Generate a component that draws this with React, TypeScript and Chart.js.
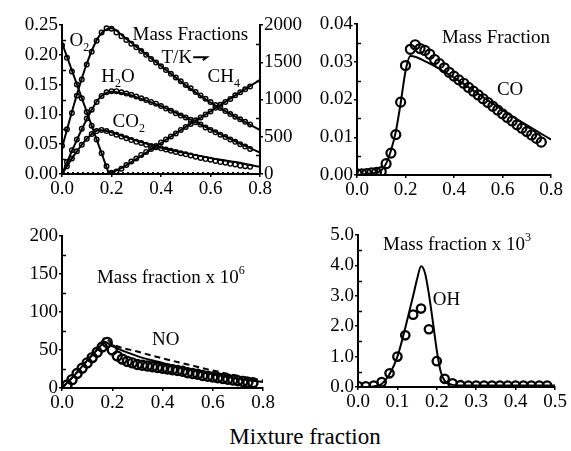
import React, { useEffect, useRef } from 'react';
import { Chart, registerables } from 'chart.js';

Chart.register(...registerables);

const FONT = "'Liberation Serif', 'Times New Roman', Times, serif";
Chart.defaults.font.family = FONT;
Chart.defaults.font.size = 19;
Chart.defaults.color = '#000';

// ---------- Panel A: major species + temperature ----------
const aXTicks = [0, 0.2, 0.4, 0.6, 0.8];
const aYTicks = [0, 0.05, 0.1, 0.15, 0.2, 0.25];
const aYMinor = [0.025, 0.075, 0.125, 0.175, 0.225];
const aTTicks = [0, 500, 1000, 1500, 2000];
const aTMinor = [250, 750, 1250, 1750];

const aLineX = [0, 0.05, 0.1, 0.15, 0.2, 0.25, 0.3, 0.4, 0.5, 0.6, 0.7, 0.8];
const aLineT = [350, 950, 1480, 1850, 1955, 1840, 1710, 1450, 1190, 960, 770, 590];
const aLineH2O = [0, 0.048, 0.092, 0.127, 0.138, 0.135, 0.129, 0.114, 0.095, 0.075, 0.055, 0.036];
const aLineCO2 = [0, 0.032, 0.059, 0.074, 0.07, 0.063, 0.056, 0.044, 0.035, 0.027, 0.02, 0.012];
const aLineO2X = [0, 0.19, 0.8];
const aLineO2 = [0.22, 0, 0];
const aLineCH4X = [0, 0.19, 0.25, 0.3, 0.4, 0.5, 0.6, 0.7, 0.8];
const aLineCH4 = [0, 0, 0.012, 0.025, 0.052, 0.079, 0.105, 0.132, 0.158];
const aDotLineX = [0, 0.76];
const aDotLineY = [0.002, 0.002];

const aExpX = [0, 0.02, 0.04, 0.06, 0.08, 0.1, 0.12, 0.14, 0.16, 0.18, 0.2, 0.22, 0.24, 0.26, 0.28, 0.3, 0.32, 0.34, 0.36, 0.38, 0.4, 0.42, 0.44, 0.46, 0.48, 0.5, 0.52, 0.54, 0.56, 0.58, 0.6, 0.62, 0.64, 0.66, 0.68, 0.7, 0.72, 0.74, 0.76];
const aExpT = [380, 600, 820, 1050, 1270, 1470, 1640, 1790, 1900, 1955, 1950, 1900, 1850, 1800, 1750, 1700, 1650, 1600, 1545, 1495, 1445, 1395, 1345, 1295, 1245, 1195, 1150, 1100, 1055, 1010, 965, 925, 885, 845, 805, 770, 735, 700, 665];
const aExpH2O = [0, 0.02, 0.04, 0.058, 0.076, 0.093, 0.108, 0.121, 0.131, 0.137, 0.139, 0.139, 0.137, 0.135, 0.133, 0.13, 0.127, 0.124, 0.121, 0.118, 0.114, 0.11, 0.106, 0.102, 0.098, 0.095, 0.091, 0.087, 0.083, 0.078, 0.074, 0.07, 0.066, 0.062, 0.058, 0.054, 0.05, 0.046, 0.042];
const aExpCO2 = [0, 0.013, 0.026, 0.038, 0.049, 0.059, 0.067, 0.072, 0.074, 0.072, 0.069, 0.066, 0.063, 0.06, 0.057, 0.054, 0.052, 0.049, 0.047, 0.045, 0.043, 0.041, 0.039, 0.037, 0.035, 0.033, 0.031, 0.029, 0.027, 0.025, 0.024, 0.022, 0.02, 0.019, 0.017, 0.016, 0.014, 0.013, 0.012];
const aExpO2X = [0, 0.02, 0.04, 0.06, 0.08, 0.1, 0.12, 0.14, 0.16, 0.18, 0.2];
const aExpO2 = [0.216, 0.195, 0.172, 0.15, 0.127, 0.104, 0.081, 0.058, 0.035, 0.013, 0.002];
const aExpCH4X = [0.2, 0.22, 0.24, 0.26, 0.28, 0.3, 0.32, 0.34, 0.36, 0.38, 0.4, 0.42, 0.44, 0.46, 0.48, 0.5, 0.52, 0.54, 0.56, 0.58, 0.6, 0.62, 0.64, 0.66, 0.68, 0.7, 0.72, 0.74, 0.76];
const aExpCH4 = [0.001, 0.004, 0.009, 0.015, 0.021, 0.026, 0.032, 0.037, 0.042, 0.047, 0.053, 0.058, 0.063, 0.068, 0.074, 0.079, 0.084, 0.09, 0.095, 0.1, 0.105, 0.111, 0.116, 0.121, 0.126, 0.132, 0.137, 0.142, 0.147];

// ---------- Panel B: CO ----------
const bXTicks = [0, 0.2, 0.4, 0.6, 0.8];
const bYTicks = [0, 0.01, 0.02, 0.03, 0.04];
const bYMinor = [0.005, 0.015, 0.025, 0.035];
const bLineX = [0, 0.05, 0.1, 0.12, 0.14, 0.16, 0.18, 0.2, 0.22, 0.3, 0.4, 0.5, 0.6, 0.7, 0.8];
const bLineCO = [0, 0.0004, 0.0012, 0.003, 0.0065, 0.0115, 0.019, 0.0275, 0.0315, 0.0295, 0.0258, 0.0215, 0.0172, 0.0132, 0.0094];
const bExpX = [0, 0.02, 0.04, 0.06, 0.08, 0.1, 0.12, 0.14, 0.16, 0.18, 0.2, 0.22, 0.24, 0.26, 0.28, 0.3, 0.32, 0.34, 0.36, 0.38, 0.4, 0.42, 0.44, 0.46, 0.48, 0.5, 0.52, 0.54, 0.56, 0.58, 0.6, 0.62, 0.64, 0.66, 0.68, 0.7, 0.72, 0.74, 0.76];
const bExpCO = [0.0003, 0.0003, 0.0004, 0.0006, 0.0007, 0.0009, 0.003, 0.0058, 0.0107, 0.0193, 0.029, 0.0333, 0.0345, 0.0335, 0.033, 0.032, 0.0306, 0.0295, 0.0284, 0.0272, 0.0262, 0.0252, 0.0243, 0.0232, 0.0222, 0.0212, 0.0202, 0.0192, 0.0182, 0.0172, 0.0162, 0.0152, 0.0143, 0.0133, 0.0124, 0.0115, 0.0106, 0.0097, 0.0087];

// ---------- Panel C: NO ----------
const cXTicks = [0, 0.2, 0.4, 0.6, 0.8];
const cYTicks = [0, 50, 100, 150, 200];
const cYMinor = [25, 75, 125, 175];
const cLineX = [0, 0.05, 0.1, 0.15, 0.17, 0.2, 0.3, 0.4, 0.5, 0.6, 0.7, 0.8];
const cLineNO = [0, 17, 36, 54, 61, 55, 42, 33, 25, 18, 12, 8];
const cDashNO = [0, 17, 36, 55, 66, 58, 48, 39, 31, 23, 16, 10];
const cExpX = [0.02, 0.04, 0.06, 0.08, 0.1, 0.12, 0.14, 0.16, 0.18, 0.2, 0.22, 0.24, 0.26, 0.28, 0.3, 0.32, 0.34, 0.36, 0.38, 0.4, 0.42, 0.44, 0.46, 0.48, 0.5, 0.52, 0.54, 0.56, 0.58, 0.6, 0.62, 0.64, 0.66, 0.68, 0.7, 0.72, 0.74, 0.76];
const cExpNO = [4, 11, 19, 26, 33, 40, 47, 54, 60, 50, 42, 38, 35, 33, 31, 30, 29, 28, 27, 26, 25, 24, 23, 22, 20, 19, 18, 16.5, 15.5, 14.5, 13.5, 12.5, 11.5, 10.5, 9.5, 8.5, 7.5, 7];

// ---------- Panel D: OH ----------
const dXTicks = [0, 0.1, 0.2, 0.3, 0.4, 0.5];
const dYTicks = [0, 1, 2, 3, 4, 5];
const dYMinor = [0.5, 1.5, 2.5, 3.5, 4.5];
const dLineX = [0, 0.04, 0.06, 0.08, 0.1, 0.12, 0.14, 0.15, 0.16, 0.17, 0.18, 0.19, 0.2, 0.21, 0.22, 0.24, 0.26, 0.3, 0.4, 0.5];
const dLineOH = [0, 0.02, 0.1, 0.42, 1.0, 1.95, 3.0, 3.55, 3.97, 3.75, 3.05, 2.15, 1.2, 0.5, 0.2, 0.07, 0.05, 0.05, 0.05, 0.05];
const dExpX = [0, 0.02, 0.04, 0.06, 0.08, 0.1, 0.12, 0.14, 0.16, 0.18, 0.2, 0.22, 0.24, 0.26, 0.28, 0.3, 0.32, 0.34, 0.36, 0.38, 0.4, 0.42, 0.44, 0.46, 0.48];
const dExpOH = [0.03, 0.02, 0.05, 0.16, 0.45, 1.0, 1.7, 2.38, 2.58, 1.9, 0.85, 0.27, 0.12, 0.06, 0.05, 0.05, 0.05, 0.05, 0.05, 0.05, 0.05, 0.05, 0.05, 0.05, 0.05];

// ---------- helpers ----------
type Pt = { x: number; y: number };
const pts = (xs: number[], ys: number[]): Pt[] => xs.map((x, i) => ({ x, y: ys[i] }));

const lineDs = (data: Pt[], extra: any = {}) => ({
  data,
  showLine: true,
  borderColor: '#000',
  backgroundColor: '#000',
  borderWidth: 2,
  pointRadius: 0,
  pointHoverRadius: 0,
  cubicInterpolationMode: 'monotone',
  fill: false,
  ...extra,
});

const straight = { cubicInterpolationMode: 'default', tension: 0 };

const dotDs = (data: Pt[], r: number, bw: number, extra: any = {}) => ({
  data,
  showLine: false,
  pointRadius: r,
  pointHoverRadius: r,
  pointBorderWidth: bw,
  pointBorderColor: '#000',
  pointBackgroundColor: 'rgba(0,0,0,0)',
  borderColor: '#000',
  backgroundColor: 'rgba(0,0,0,0)',
  ...extra,
});

const tickFont = { family: FONT, size: 19, style: 'normal', weight: 'normal', lineHeight: 1.2 };

const scale = (pos: string, min: number, max: number, ticks: number[], fmt: (v: number) => string, size: number, extra: any = {}) => ({
  type: 'linear',
  position: pos,
  min,
  max,
  afterBuildTicks: (s: any) => {
    s.ticks = ticks.map((v) => ({ value: v }));
  },
  afterFit: (s: any) => {
    if (pos === 'bottom') s.height = size;
    else s.width = size;
  },
  border: { display: true, color: '#000', width: 2 },
  grid: { display: true, drawOnChartArea: false, drawTicks: true, tickLength: 3, color: '#000', lineWidth: 1.5 },
  ticks: {
    color: '#000',
    font: tickFont,
    padding: 1,
    maxRotation: 0,
    autoSkip: false,
    callback: (v: any) => fmt(Number(v)),
  },
  ...extra,
});

// inward minor ticks drawn through the chart's own scales
const minorPlugin = (specs: { id: string; values: number[] }[]) => ({
  id: 'minorTicks',
  afterDraw(chart: any) {
    const ctx = chart.ctx;
    ctx.save();
    ctx.strokeStyle = '#000';
    ctx.lineWidth = 1.5;
    specs.forEach(({ id, values }) => {
      const s = chart.scales[id];
      const isRight = s.position === 'right';
      const edge = isRight ? s.left : s.right;
      const dir = isRight ? -1 : 1;
      values.forEach((v) => {
        const py = Math.round(s.getPixelForValue(v)) + 0.5;
        ctx.beginPath();
        ctx.moveTo(edge, py);
        ctx.lineTo(edge + dir * 4, py);
        ctx.stroke();
      });
    });
    ctx.restore();
  },
});

type Part = [string, 'n' | 'sub' | 'sup'];
type Note = { x: number; y: number; axis?: string; parts: Part[] };

const notesPlugin = (notes: Note[], extra?: (chart: any) => void) => ({
  id: 'notes',
  afterDatasetsDraw(chart: any) {
    const ctx = chart.ctx;
    ctx.save();
    ctx.fillStyle = '#000';
    ctx.textAlign = 'left';
    ctx.textBaseline = 'alphabetic';
    notes.forEach((n) => {
      let px = chart.scales.x.getPixelForValue(n.x);
      const py = chart.scales[n.axis || 'y'].getPixelForValue(n.y);
      n.parts.forEach(([t, kind]) => {
        const size = kind === 'n' ? 19 : 12;
        ctx.font = `${size}px ${FONT}`;
        const dy = kind === 'sub' ? 5 : kind === 'sup' ? -9 : 0;
        ctx.fillText(t, px, py + dy);
        px += ctx.measureText(t).width;
      });
    });
    if (extra) extra(chart);
    ctx.restore();
  },
});

const baseOptions = (padding: any, scales: any) => ({
  responsive: false,
  animation: false,
  events: [],
  font: tickFont,
  layout: { padding },
  plugins: { legend: { display: false }, tooltip: { enabled: false } },
  scales,
});

const f2 = (v: number) => v.toFixed(2);
const f1 = (v: number) => v.toFixed(1);
const f0 = (v: number) => String(Math.round(v));

// arrow next to T/K (in data units of panel A)
const arrowFrom = [0.53, 0.196];
const arrowTo = [0.585, 0.196];

const configA = () => ({
  type: 'scatter',
  data: {
    datasets: [
      lineDs(pts(aLineX, aLineT), { yAxisID: 'yT' }),
      lineDs(pts(aLineX, aLineH2O)),
      lineDs(pts(aLineX, aLineCO2)),
      lineDs(pts(aLineO2X, aLineO2), straight),
      lineDs(pts(aLineCH4X, aLineCH4), straight),
      lineDs(pts(aDotLineX, aDotLineY), { ...straight, borderDash: [2, 3], borderWidth: 1.5 }),
      dotDs(pts(aExpX, aExpT), 2.3, 1.4, { yAxisID: 'yT' }),
      dotDs(pts(aExpX, aExpH2O), 2.3, 1.4),
      dotDs(pts(aExpX, aExpCO2), 2.3, 1.4),
      dotDs(pts(aExpO2X, aExpO2), 2.3, 1.4),
      dotDs(pts(aExpCH4X, aExpCH4), 2.3, 1.4),
    ],
  },
  options: baseOptions({ top: 25, left: 0, right: 0, bottom: 0 }, {
    x: scale('bottom', 0, 0.8, aXTicks, f1, 26),
    y: scale('left', 0, 0.25, aYTicks, f2, 62),
    yT: scale('right', 0, 2000, aTTicks, f0, 50),
  }),
  plugins: [
    minorPlugin([{ id: 'y', values: aYMinor }, { id: 'yT', values: aTMinor }]),
    notesPlugin(
      [
        { x: 0.03, y: 0.215, parts: [['O', 'n'], ['2', 'sub']] },
        { x: 0.285, y: 0.225, parts: [['Mass Fractions', 'n']] },
        { x: 0.402, y: 0.186, parts: [['T/K', 'n']] },
        { x: 0.159, y: 0.154, parts: [['H', 'n'], ['2', 'sub'], ['O', 'n']] },
        { x: 0.204, y: 0.079, parts: [['CO', 'n'], ['2', 'sub']] },
        { x: 0.588, y: 0.154, parts: [['CH', 'n'], ['4', 'sub']] },
      ],
      (chart: any) => {
        const ctx = chart.ctx;
        const sx = chart.scales.x, sy = chart.scales.y;
        const x1 = sx.getPixelForValue(arrowFrom[0]);
        const y1 = sy.getPixelForValue(arrowFrom[1]);
        const x2 = sx.getPixelForValue(arrowTo[0]);
        const y2 = sy.getPixelForValue(arrowTo[1]);
        ctx.strokeStyle = '#000';
        ctx.lineWidth = 2;
        ctx.beginPath();
        ctx.moveTo(x1, y1);
        ctx.lineTo(x2, y2);
        ctx.lineTo(x2 - 4, y2 + 3);
        ctx.stroke();
      }
    ),
  ],
});

const configB = () => ({
  type: 'scatter',
  data: {
    datasets: [
      lineDs(pts(bLineX, bLineCO)),
      dotDs(pts(bExpX, bExpCO), 4.5, 2.2),
    ],
  },
  options: baseOptions({ top: 24, left: 0, right: 20, bottom: 0 }, {
    x: scale('bottom', 0, 0.8, bXTicks, f1, 25),
    y: scale('left', 0, 0.04, bYTicks, f2, 67),
  }),
  plugins: [
    minorPlugin([{ id: 'y', values: bYMinor }]),
    notesPlugin([
      { x: 0.35, y: 0.035, parts: [['Mass Fraction', 'n']] },
      { x: 0.577, y: 0.0212, parts: [['CO', 'n']] },
    ]),
  ],
});

const configC = () => ({
  type: 'scatter',
  data: {
    datasets: [
      lineDs(pts(cLineX, cLineNO)),
      lineDs(pts(cLineX, cDashNO), { borderDash: [6, 4] }),
      dotDs(pts(cExpX, cExpNO), 4.5, 2.4),
    ],
  },
  options: baseOptions({ top: 16, left: 0, right: 27, bottom: 0 }, {
    x: scale('bottom', 0, 0.8, cXTicks, f1, 32),
    y: scale('left', 0, 200, cYTicks, f0, 62),
  }),
  plugins: [
    minorPlugin([{ id: 'y', values: cYMinor }]),
    notesPlugin([
      { x: 0.139, y: 138, parts: [['Mass fraction x 10', 'n'], ['6', 'sup']] },
      { x: 0.358, y: 56.6, parts: [['NO', 'n']] },
    ]),
  ],
});

const configD = () => ({
  type: 'scatter',
  data: {
    datasets: [
      lineDs(pts(dLineX, dLineOH)),
      dotDs(pts(dExpX, dExpOH), 4.2, 2.3),
    ],
  },
  options: baseOptions({ top: 15, left: 0, right: 16, bottom: 0 }, {
    x: scale('bottom', 0, 0.5, dXTicks, f1, 33),
    y: scale('left', 0, 5, dYTicks, f1, 68),
  }),
  plugins: [
    minorPlugin([{ id: 'y', values: dYMinor }]),
    notesPlugin([
      { x: 0.0635, y: 4.5, parts: [['Mass fraction x 10', 'n'], ['3', 'sup']] },
      { x: 0.19, y: 2.7, parts: [['OH', 'n']] },
    ]),
  ],
});

function Panel(props: { left: number; top: number; width: number; height: number; make: () => any }) {
  const ref = useRef<HTMLCanvasElement | null>(null);
  useEffect(() => {
    const chart = new Chart(ref.current as HTMLCanvasElement, props.make());
    return () => chart.destroy();
  }, []);
  return (
    <canvas
      ref={ref}
      width={props.width}
      height={props.height}
      style={{ position: 'absolute', left: props.left, top: props.top, width: props.width, height: props.height }}
    />
  );
}

export default function App() {
  return (
    <div style={{ position: 'absolute', left: 0, top: 0, width: 571, height: 451, background: '#fff', overflow: 'hidden' }}>
      <Panel left={0} top={0} width={310} height={200} make={configA} />
      <Panel left={290} top={0} width={281} height={200} make={configB} />
      <Panel left={0} top={220} width={290} height={200} make={configC} />
      <Panel left={290} top={220} width={281} height={200} make={configD} />
      <div
        style={{
          position: 'absolute',
          left: 205,
          top: 425,
          width: 200,
          textAlign: 'center',
          fontFamily: FONT,
          fontSize: 23,
          lineHeight: '23px',
          color: '#000',
          whiteSpace: 'nowrap',
        }}
      >
        Mixture fraction
      </div>
    </div>
  );
}
